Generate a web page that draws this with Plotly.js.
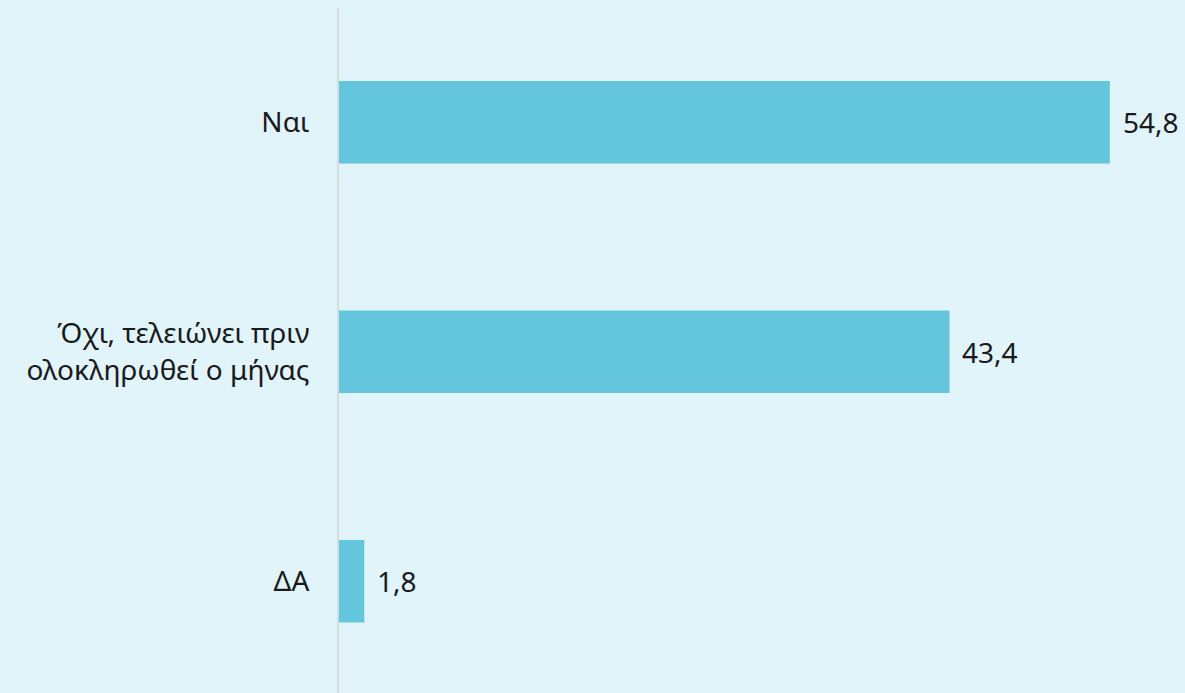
<!DOCTYPE html>
<html>
<head>
<meta charset="utf-8">
<script src="https://cdn.plot.ly/plotly-3.0.1.min.js"></script>
<style>
html,body{margin:0;padding:0;background:#e0f4fa;overflow:hidden;}
#chart{width:1185px;height:693px;}
</style>
</head>
<body>
<div id="chart"></div>
<script>
var categories = ["Ναι", "Όχι, τελειώνει πριν<br>ολοκληρωθεί ο μήνας", "ΔΑ"];
var values = [54.8, 43.4, 1.8];

var FONT = '"Noto Sans", "Open Sans", sans-serif';

var annotations = values.map(function(v, i){
  return {
    x: v, y: categories[i], xref: 'x', yref: 'y',
    text: v.toFixed(1).replace('.', ','),
    showarrow: false, xanchor: 'left', yanchor: 'middle', xshift: 11,
    font: {family: FONT, size: 28, color: '#1a1a1a'}
  };
});

var trace = {
  type: 'bar',
  orientation: 'h',
  x: values,
  y: categories,
  marker: {color: '#64c6dd'},
  hoverinfo: 'none'
};

var layout = {
  width: 1185, height: 693,
  margin: {l: 339, r: 2, t: 8, b: 0},
  paper_bgcolor: '#e0f4fa',
  plot_bgcolor: '#e0f4fa',
  bargap: 0.64,
  showlegend: false,
  separators: ',.',
  font: {family: FONT, size: 28, color: '#1a1a1a'},
  xaxis: {range: [0, 60], showgrid: false, zeroline: false, showticklabels: false, showline: false, fixedrange: true},
  yaxis: {
    type: 'category',
    range: [2.487, -0.498],
    showgrid: false, zeroline: false,
    showline: true, linecolor: '#d5d9db', linewidth: 2,
    ticks: '', ticklabelstandoff: 22,
    tickfont: {family: FONT, size: 28, color: '#1a1a1a'},
    fixedrange: true
  },
  annotations: annotations
};

Plotly.newPlot('chart', [trace], layout, {displayModeBar: false, staticPlot: true});
</script>
</body>
</html>
